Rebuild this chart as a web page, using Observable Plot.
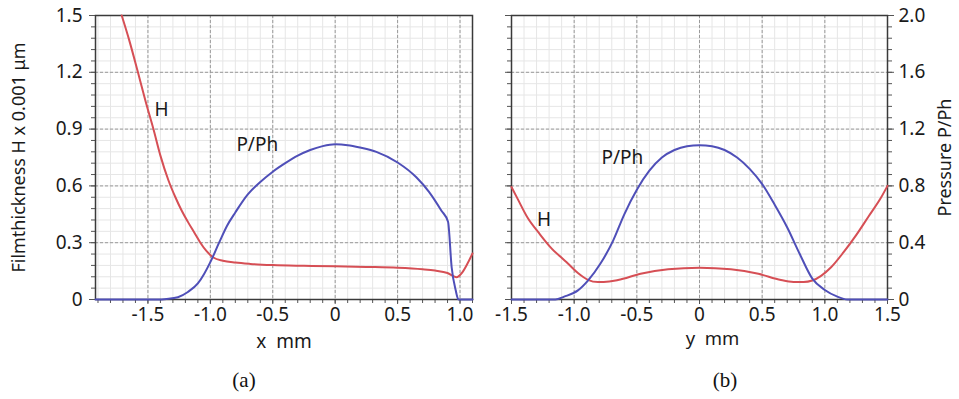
<!DOCTYPE html>
<html><head><meta charset="utf-8">
<script src="https://cdn.jsdelivr.net/npm/d3@7"></script>
<script src="https://cdn.jsdelivr.net/npm/@observablehq/plot@0.6"></script>
<style>
body{margin:0;background:#fff;}
#wrap{position:relative;width:959px;height:399px;font-family:"Noto Sans",sans-serif;overflow:hidden;}
.panel{position:absolute;top:0;}
.cap{position:absolute;top:368px;font-family:"Liberation Serif",serif;font-size:21px;line-height:24px;transform:translateX(-50%);color:#111;}
</style></head><body><div id="wrap"></div>
<script>
// ---------- data ----------
// Panel (a): film thickness H along x (mm), H x 0.001 µm
const xHA = [-1.71,-1.65,-1.58,-1.52,-1.456,-1.40,-1.336,-1.28,-1.23,-1.18,-1.13,-1.08,-1.03,-0.976,-0.9,-0.8,-0.68,-0.5,-0.25,0,0.25,0.5,0.7,0.8,0.9,0.97,1.02,1.06,1.10];
const hA  = [1.5,1.37,1.2,1.05,0.9,0.76,0.63,0.54,0.47,0.41,0.355,0.30,0.255,0.222,0.205,0.195,0.188,0.182,0.178,0.175,0.172,0.168,0.160,0.153,0.140,0.118,0.145,0.19,0.243];
// Panel (a): pressure P/Ph along x
const xPA = [-1.92,-1.42,-1.35,-1.26,-1.18,-1.10,-1.05,-1.00,-0.93,-0.866,-0.80,-0.70,-0.60,-0.50,-0.40,-0.30,-0.20,-0.10,0,0.10,0.20,0.33,0.50,0.65,0.75,0.85,0.904,0.933,0.965,0.987,1.10];
const pA  = [0,0,0.004,0.016,0.053,0.113,0.18,0.263,0.40,0.52,0.613,0.74,0.827,0.90,0.96,1.013,1.053,1.08,1.093,1.087,1.07,1.04,0.965,0.861,0.76,0.627,0.547,0.227,0.067,0,0];
// Panel (b): film thickness H along y (mm)
const yHB = [-1.5,-1.45,-1.37,-1.28,-1.19,-1.10,-1.05,-0.97,-0.89,-0.81,-0.72,-0.65,-0.47,-0.25,0,0.25,0.47,0.65,0.75,0.83,0.9,0.97,1.05,1.15,1.25,1.35,1.45,1.5];
const hB  = [0.594,0.53,0.43,0.35,0.277,0.22,0.19,0.14,0.104,0.092,0.095,0.103,0.136,0.16,0.168,0.16,0.136,0.103,0.093,0.092,0.10,0.125,0.17,0.25,0.34,0.44,0.54,0.60];
// Panel (b): pressure P/Ph along y
const yPB = [-1.5,-1.15,-1.08,-0.97,-0.89,-0.79,-0.69,-0.6,-0.5,-0.4,-0.3,-0.2,-0.1,0,0.1,0.2,0.3,0.4,0.5,0.6,0.7,0.8,0.9,1.0,1.1,1.18,1.5];
const pB  = [0,0,0.02,0.064,0.133,0.253,0.413,0.60,0.773,0.907,1.0,1.053,1.08,1.087,1.08,1.053,1.0,0.92,0.813,0.667,0.507,0.32,0.147,0.067,0.02,0,0];

// ticks and labels
const xTicksA = [-1.5,-1.0,-0.5,0,0.5,1.0];
const xTicksB = [-1.5,-1.0,-0.5,0,0.5,1.0,1.5];
const hTicks  = [0,0.3,0.6,0.9,1.2,1.5];
const pTickLabels = ["0","0.4","0.8","1.2","1.6","2.0"];
const labelsA = [{x:-1.39,y:1.0,t:"H"},{x:-0.624,y:0.815,t:"P/Ph"}];
const labelsB = [{x:-1.24,y:0.418,t:"H"},{x:-0.615,y:0.746,t:"P/Ph"}];
const leftTitle = "Filmthickness H x 0.001 μm";
const rightTitle = "Pressure P/Ph";
const xTitleA = "x\u00a0\u00a0mm";
const xTitleB = "y\u00a0\u00a0mm";
const captions = ["(a)","(b)"];

// pressure axis 0..2 shares the height of the H axis 0..1.5
const pScale = 0.75;

const red = "#d64f55", blue = "#4f4fb8";
const toRows = (xs, vs) => xs.map((x,i)=>({x, v:vs[i]}));
const minorY = d3.range(0,26).map(i=>+(i*0.06).toFixed(3));
const fmtX = d => d===0 ? "0" : d.toFixed(1);
const fmtH = d => d===0 ? "0" : d.toFixed(1);
const fmtP = d => pTickLabels[hTicks.indexOf(d)];
const blank = () => "";

function common(minorX, majorX) {
  return [
    Plot.ruleX(minorX, {stroke:"#e6e6e6", strokeWidth:1}),
    Plot.ruleY(minorY, {stroke:"#e6e6e6", strokeWidth:1}),
    Plot.ruleX(majorX, {stroke:"#9a9a9a", strokeWidth:1, strokeDasharray:"3,2"}),
    Plot.ruleY(hTicks, {stroke:"#9a9a9a", strokeWidth:1, strokeDasharray:"3,2"}),
    Plot.axisX({ticks:minorX, tickSize:4, tickFormat:blank, label:null, stroke:"#555"}),
    Plot.axisX({ticks:majorX, tickSize:5, tickPadding:3, tickFormat:fmtX, label:null, stroke:"#555"}),
    Plot.axisY({ticks:minorY, tickSize:4, tickFormat:blank, label:null, stroke:"#555"}),
  ];
}

const style = {fontFamily:"'Noto Sans', sans-serif", fontSize:"19px", background:"transparent", color:"#1a1a1a", overflow:"visible"};

const plotA = Plot.plot({
  width:480, height:355, marginLeft:95, marginRight:8, marginTop:15, marginBottom:56,
  x:{domain:[-1.92,1.1], label:null}, y:{domain:[0,1.5], label:null},
  style,
  marks:[
    ...common(d3.range(-19,12).map(i=>i/10), xTicksA),
    Plot.axisY({ticks:hTicks, tickSize:6, tickPadding:7, tickFormat:fmtH, label:null, stroke:"#555"}),
    Plot.frame({stroke:"#3a3a3a", strokeWidth:1.5}),
    Plot.line(toRows(xHA,hA), {x:"x", y:"v", stroke:red, strokeWidth:2, curve:"monotone-x"}),
    Plot.line(toRows(xPA,pA), {x:"x", y:d=>d.v*pScale, stroke:blue, strokeWidth:2, curve:"monotone-x"}),
    Plot.text(labelsA, {x:"x", y:"y", text:"t", fontSize:19, fill:"#1a1a1a"}),
    Plot.text([leftTitle], {frameAnchor:"left", dx:-76, rotate:-90, textAnchor:"middle", lineAnchor:"middle", fontSize:18, fill:"#1a1a1a"}),
    Plot.text([xTitleA], {frameAnchor:"bottom", dy:42, textAnchor:"middle", lineAnchor:"middle", fontSize:19, fill:"#1a1a1a"})
  ]
});

const plotB = Plot.plot({
  width:479, height:355, marginLeft:31, marginRight:72, marginTop:15, marginBottom:56,
  x:{domain:[-1.5,1.5], label:null}, y:{domain:[0,1.5], label:null},
  style,
  marks:[
    ...common(d3.range(-15,16).map(i=>i/10), xTicksB),
    Plot.axisY({ticks:hTicks, tickSize:6, tickFormat:blank, label:null, stroke:"#555"}),
    Plot.axisY({anchor:"right", ticks:minorY, tickSize:4, tickFormat:blank, label:null, stroke:"#555"}),
    Plot.axisY({anchor:"right", ticks:hTicks, tickSize:6, tickPadding:5, tickFormat:fmtP, label:null, stroke:"#555"}),
    Plot.frame({stroke:"#3a3a3a", strokeWidth:1.5}),
    Plot.line(toRows(yHB,hB), {x:"x", y:"v", stroke:red, strokeWidth:2, curve:"monotone-x"}),
    Plot.line(toRows(yPB,pB), {x:"x", y:d=>d.v*pScale, stroke:blue, strokeWidth:2, curve:"monotone-x"}),
    Plot.text(labelsB, {x:"x", y:"y", text:"t", fontSize:19, fill:"#1a1a1a"}),
    Plot.text([rightTitle], {frameAnchor:"right", dx:58, rotate:-90, textAnchor:"middle", lineAnchor:"middle", fontSize:18, fill:"#1a1a1a"}),
    Plot.text([xTitleB], {frameAnchor:"bottom", dy:40, dx:13, textAnchor:"middle", lineAnchor:"middle", fontSize:18.5, fill:"#1a1a1a"})
  ]
});

const wrap = document.getElementById("wrap");
const a = document.createElement("div"); a.className="panel"; a.style.left="0px"; a.appendChild(plotA); wrap.appendChild(a);
const b = document.createElement("div"); b.className="panel"; b.style.left="480px"; b.appendChild(plotB); wrap.appendChild(b);
[[captions[0],244],[captions[1],725]].forEach(([t,x])=>{
  const c = document.createElement("div"); c.className="cap"; c.style.left=x+"px"; c.textContent=t; wrap.appendChild(c);
});
</script>
</body></html>
